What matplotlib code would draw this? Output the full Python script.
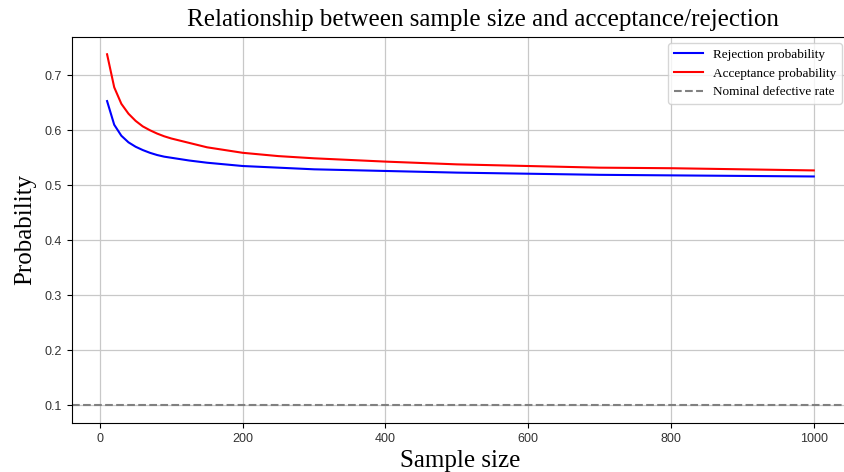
import numpy as np
import matplotlib.pyplot as plt

# sample sizes and probabilities
sample_size = [10, 20, 30, 40, 50, 60, 70, 80, 90, 100, 125, 150, 200, 250, 300,
               400, 500, 600, 700, 800, 900, 1000]
reject_prob = [0.653, 0.610, 0.590, 0.578, 0.570, 0.564, 0.559, 0.555, 0.552, 0.550,
               0.545, 0.541, 0.535, 0.532, 0.529, 0.526, 0.523, 0.521, 0.519, 0.518,
               0.517, 0.516]
accept_prob = [0.738, 0.678, 0.648, 0.630, 0.617, 0.607, 0.600, 0.594, 0.589, 0.585,
               0.577, 0.569, 0.559, 0.553, 0.549, 0.543, 0.538, 0.535, 0.532, 0.531,
               0.529, 0.527]
nominal_rate = 0.1

serif = ['Liberation Serif', 'DejaVu Serif']

fig = plt.figure(figsize=(8.45, 4.72), dpi=100)
ax = fig.add_axes([0.0849, 0.1038, 0.920, 0.8184])

ax.plot(sample_size, reject_prob, c='blue', lw=1.5, label='Rejection probability')
ax.plot(sample_size, accept_prob, c='red', lw=1.5, label='Acceptance probability')
ax.axhline(nominal_rate, c='gray', ls='--', lw=1.5, label='Nominal defective rate')

ax.set_title('Relationship between sample size and acceptance/rejection',
             family=serif, fontsize=18, x=0.529, pad=8)
ax.set_xlabel('Sample size', family=serif, fontsize=18, labelpad=4)
ax.set_ylabel('Probability', family=serif, fontsize=18, labelpad=6)

ax.grid(True, color='#c8c8c8', lw=0.9)
ax.tick_params(labelcolor='#333333')
for lab in ax.get_xticklabels() + ax.get_yticklabels():
    lab.set_family('Liberation Sans')
    lab.set_fontsize(9)

ax.legend(loc='upper right', prop={'family': serif, 'size': 9.5},
          bbox_to_anchor=(0.994, 0.99), handlelength=2.2, borderaxespad=0.2)

fig.savefig('out.png', dpi=100)
